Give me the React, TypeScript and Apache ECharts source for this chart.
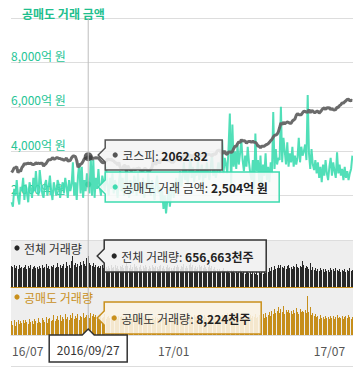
import React, { useEffect, useRef } from 'react';
import * as echarts from 'echarts';

// ---------- data ----------
const START = '2016-06-29';
const END = '2017-07-27';
const HOLIDAYS = [
  '2016-08-15', '2016-09-14', '2016-09-15', '2016-09-16', '2016-10-03', '2016-12-30',
  '2017-01-27', '2017-01-30', '2017-03-01', '2017-05-01', '2017-05-03', '2017-05-05',
  '2017-05-09', '2017-06-06',
];

function tradingDays(): string[] {
  const out: string[] = [];
  const d = new Date(START + 'T00:00:00Z');
  const end = new Date(END + 'T00:00:00Z');
  while (d.getTime() <= end.getTime()) {
    const wd = d.getUTCDay();
    const iso = d.toISOString().slice(0, 10);
    if (wd !== 0 && wd !== 6 && !HOLIDAYS.includes(iso)) out.push(iso.replace(/-/g, '/'));
    d.setUTCDate(d.getUTCDate() + 1);
  }
  return out;
}
const dates = tradingDays();

// 코스피 지수
const kospi = [
  1956, 1970,
  1987, 1989, 1994, 1954, 1974, 1963, 1989, 2000, 2017, 2012, 2017, 2018, 2016, 2019, 2012, 2010, 2013, 2021, 2016, 2019, 2016,
  2019, 2019, 1999, 2010, 2017, 2031, 2043, 2043, 2044, 2056, 2048, 2048, 2055, 2056, 2050, 2051, 2046, 2045, 2038, 2045, 2053, 2034,
  2035, 2038, 2056, 2067, 2067, 2063, 2038, 1991, 2000, 2012, 2017, 2032, 2050, 2053, 2055, 2062.82, 2050, 2068, 2044,
  2053, 2054, 2056, 2054, 2055, 2043, 2033, 2024, 2022, 2027, 2033, 2044, 2047, 2040, 2047, 2038, 2034, 2024, 2020, 2008,
  2024, 1992, 1983, 1982, 2003, 2003, 1958, 2002, 1984, 1974, 1968, 1980, 1979, 1974, 1984, 1983, 1988, 1967, 1975, 1966, 1983, 1983,
  1970, 1970, 1963, 1979, 1991, 2031, 2024, 2008, 2035, 2038, 2017, 2042, 2043, 2043, 2042, 2042, 2035, 2037, 2041, 2026, 2026,
  2026, 2043, 2046, 2042, 2049, 2036, 2046, 2064, 2074, 2076, 2064, 2059, 2072, 2073, 2065, 2066, 2075, 2083, 2083, 2068,
  2073, 2068, 2073, 2072, 2062, 2067, 2075, 2078, 2077, 2075, 2066, 2080, 2081, 2079, 2102, 2106, 2107, 2094, 2085, 2091,
  2102, 2079, 2081, 2094, 2095, 2092, 2097, 2117, 2133, 2133, 2150, 2164, 2157, 2178, 2168, 2172, 2168, 2154, 2163, 2166, 2165, 2160,
  2167, 2160, 2160, 2152, 2133, 2135, 2123, 2133, 2134, 2134, 2142, 2145, 2150, 2160, 2172, 2180, 2196, 2207, 2209, 2215,
  2230, 2260, 2292, 2280, 2296, 2286, 2292, 2297, 2295, 2288, 2289, 2304, 2311, 2317, 2342, 2355, 2346, 2347, 2347,
  2360, 2371, 2369, 2364, 2363, 2381, 2359, 2374, 2372, 2361, 2362, 2370, 2370, 2357, 2366, 2378, 2388, 2392, 2382, 2395, 2391,
  2394, 2381, 2388, 2380, 2379, 2382, 2397, 2396, 2409, 2414, 2426, 2425, 2434, 2441, 2450, 2451, 2440, 2444, 2443,
];

// 공매도 거래 금액 (억 원)
const shortAmount = [
  1700, 1500, 2300, 2000, 2700, 1900, 1600, 2400, 2200, 2800,
  1800, 2500, 2100, 1700, 2600, 2300, 1900, 2800, 2200, 3100,
  2400, 2000, 3150, 2600, 2100, 1900, 2500, 2700, 2000, 2400,
  2900, 2200, 1800, 2600, 2300, 2000, 2700, 2500, 1900, 2300,
  2600, 2100, 2800, 2400, 1900, 2700, 2200, 2500, 3500, 2000,
  2600, 1800, 2900, 3450, 2100, 3300, 1900, 2700, 2200, 3000,
  2504, 2100, 3740, 2000, 3600, 1900, 2800, 2300, 3200, 2400,
  2000, 2900, 2600, 2200, 3300, 2500, 2000, 2800, 2300, 3000,
  2100, 2700, 2400, 1900, 2600, 3100, 2200, 2800, 2000, 2500,
  3300, 2300, 1900, 2700, 2400, 2100, 2900, 2600, 2000, 3000,
  2300, 2500, 2100, 2800, 1900, 2600, 2200, 3000, 2400, 2000,
  2700, 2300, 1800, 2500, 2900, 2100, 2400, 1700, 2200, 1400,
  2000, 1200, 1800, 2300, 1500, 2100, 2600, 1900, 2400, 2800,
  2200, 2600, 3100, 2400, 2900, 3500, 2700, 3200, 2500, 3000,
  3800, 2800, 3300, 2600, 3100, 2900, 3600, 2700, 3000, 3400,
  2600, 3200, 2800, 3500, 3000, 2700, 3300, 3900, 2900, 3200,
  2800, 3100, 3500, 3000, 3600, 4500, 3000, 3700, 3400, 3000,
  4200, 5700, 2300, 5200, 3300, 4000, 3200, 4300, 3400, 3900,
  4500, 3600, 3100, 3800, 3300, 4200, 3500, 3000, 2700, 3600,
  2200, 4800, 3100, 3600, 2600, 3800, 2500, 3400, 2900, 3900,
  2700, 3300, 2600, 3500, 3000, 5770, 3200, 4100, 3400, 3700,
  3600, 6000, 3500, 4600, 4000, 3400, 4400, 3300, 3900, 3500,
  4200, 3300, 3800, 3400, 3700, 4600, 3500, 4200, 3800, 4000,
  4300, 3600, 6530, 3900, 3200, 4100, 3400, 3150, 3600, 3000,
  3500, 2800, 3300, 2600, 3400, 2900, 3600, 3000, 2700, 3300,
  3700, 2900, 3500, 3100, 2800, 3950, 3000, 3400, 2900, 3200,
  2700, 3300, 2800, 3100, 2700, 3000, 3200, 3800,
];

// 전체 거래량 (천주)
const totalVolume = [
  452000, 430000, 478000, 401000, 445000, 389000, 468000, 412000, 436000, 398000,
  420000, 465000, 390000, 441000, 408000, 472000, 385000, 430000, 455000, 402000,
  418000, 376000, 447000, 410000, 462000, 395000, 428000, 481000, 402000, 437000,
  389000, 452000, 416000, 470000, 398000, 435000, 512000, 420000, 458000, 405000,
  446000, 489000, 414000, 530000, 437000, 468000, 402000, 551000, 660000, 478000,
  512000, 433000, 490000, 448000, 536000, 470000, 562000, 498000, 455000, 610000,
  656663, 520000, 478000, 445000, 502000, 430000, 468000, 415000, 452000, 398000,
  440000, 472000, 408000, 455000, 420000, 386000, 448000, 410000, 462000, 395000,
  430000, 475000, 402000, 441000, 388000, 456000, 418000, 470000, 396000, 437000,
  512000, 445000, 408000, 462000, 390000, 433000, 480000, 415000, 450000, 398000,
  425000, 468000, 392000, 440000, 405000, 458000, 420000, 382000, 446000, 410000,
  475000, 430000, 398000, 452000, 415000, 390000, 438000, 470000, 402000, 445000,
  380000, 425000, 458000, 395000, 432000, 410000, 360000, 398000, 442000, 415000,
  468000, 420000, 392000, 455000, 430000, 486000, 410000, 445000, 398000, 462000,
  520000, 435000, 470000, 408000, 452000, 390000, 428000, 476000, 415000, 440000,
  395000, 458000, 420000, 385000, 432000, 465000, 402000, 446000, 378000, 418000,
  355000, 392000, 340000, 378000, 325000, 362000, 398000, 345000, 310000, 372000,
  335000, 298000, 356000, 320000, 368000, 305000, 342000, 288000, 330000, 352000,
  312000, 296000, 348000, 275000, 322000, 340000, 290000, 315000, 268000, 330000,
  305000, 285000, 338000, 262000, 310000, 295000, 326000, 278000, 345000, 300000,
  352000, 318000, 395000, 340000, 420000, 368000, 445000, 382000, 410000, 460000,
  398000, 475000, 430000, 405000, 452000, 385000, 440000, 468000, 410000, 435000,
  392000, 455000, 418000, 480000, 430000, 402000, 445000, 415000, 550000, 470000,
  395000, 440000, 428000, 385000, 512000, 372000, 415000, 360000, 398000, 345000,
  382000, 330000, 405000, 352000, 375000, 318000, 390000, 342000, 368000, 325000,
  398000, 355000, 380000, 335000, 410000, 362000, 345000, 392000, 328000, 370000,
  350000, 385000, 318000, 362000, 340000, 395000, 330000, 372000,
];

// 공매도 거래량 (천주)
const shortVolume = [
  5800, 4200, 6300, 3800, 5500, 6100, 4600, 5900, 5200, 6400,
  4900, 6200, 5600, 4400, 6800, 5300, 6000, 4700, 6500, 5800,
  5100, 6900, 5500, 4800, 7200, 6100, 5400, 7600, 5000, 6600,
  7100, 5700, 6300, 8200, 5900, 6700, 7800, 6200, 8500, 6000,
  7300, 6500, 8900, 6800, 7600, 6100, 8300, 7000, 9200, 6600,
  7900, 7200, 8600, 6400, 8100, 7500, 9000, 6900, 7700, 8400,
  8224, 7100, 9300, 7800, 8800, 7300, 8500, 6900, 8000, 7400,
  8200, 7000, 7700, 8600, 6800, 7500, 8100, 7200, 7900, 6700,
  7600, 8300, 7100, 6600, 7800, 7300, 8000, 6900, 7400, 8200,
  7000, 7600, 6500, 7900, 7200, 6800, 8100, 7400, 6900, 7700,
  7100, 6600, 7500, 8000, 6800, 7300, 6400, 7800, 7000, 6700,
  7400, 6900, 6300, 7600, 7100, 6500, 7200, 6000, 6800, 7300,
  5600, 6200, 7000, 5900, 6600, 7200, 6100, 6800, 7500, 6400,
  7100, 6700, 7800, 6900, 7400, 8100, 7000, 7600, 6800, 8300,
  7200, 7900, 6700, 8500, 7400, 7000, 8000, 7300, 8700, 7500,
  7100, 8200, 7600, 6900, 8400, 7800, 7200, 8600, 7000, 7900,
  7400, 8100, 6800, 7700, 7100, 8300, 7500, 6900, 8000, 9200,
  7300, 8500, 7600, 9000, 7200, 8100, 7700, 8800, 7000, 8400,
  7800, 7200, 8600, 7400, 8000, 6900, 7600, 8300, 7100, 7800,
  7300, 8900, 7000, 7600, 8200, 6800, 7500, 8700, 7200, 9100,
  7700, 8400, 9600, 8000, 10200, 8800, 10800, 9300, 9900, 11600,
  9000, 11000, 9600, 12000, 8900, 10400, 9400, 10600, 9100, 9800,
  8700, 10300, 9200, 11200, 9500, 8800, 10700, 9700, 10100, 9400,
  10500, 9000, 16200, 9600, 11500, 8400, 9200, 7800, 8600, 7400,
  7900, 6800, 8200, 7200, 7600, 6500, 8000, 7000, 7500, 6600,
  7900, 7100, 8100, 6800, 7400, 8300, 6900, 7600, 7200, 7800,
  6700, 7500, 7900, 7000, 8200, 7300, 6800, 7700,
];

const Y_TICKS = [2000, 4000, 6000, 8000];
const X_TICK_DATES = ['2016/07/01', '2017/01/02', '2017/07/03'];
const X_TICK_LABELS = ['16/07', '17/01', '17/07'];
const FOCUS_DATE = '2016/09/27';

// ---------- style ----------
const FONT = "'Noto Sans CJK KR', 'Noto Sans', sans-serif";
const GREEN = '#3edbb0';
const GREEN_TEXT = '#26c596';
const KOSPI_COLOR = '#636363';
const DARK = '#262626';
const ORANGE = '#c9901c';
const BAR_DARK = '#282828';
const BAR_ORANGE = '#c68e1a';

function buildOption(): any {
  const fi = dates.indexOf(FOCUS_DATE);
  return {
    animation: false,
    title: {
      text: '공매도 거래 금액',
      left: 17,
      top: 2,
      textStyle: { fontSize: 12, fontWeight: 'bold', color: '#1fbf8e', fontFamily: FONT },
    },
    grid: [
      { left: 11, right: 0, top: 18, height: 222 },
      { left: 11, right: 0, top: 240, height: 47, show: true, backgroundColor: '#eeeeee', borderWidth: 0 },
      { left: 11, right: 0, top: 287, height: 48, show: true, backgroundColor: '#eeeeee', borderWidth: 0 },
    ],
    xAxis: [0, 1, 2].map((g) => ({
      type: 'category',
      gridIndex: g,
      data: dates,
      boundaryGap: true,
      axisLabel: { show: false },
      axisTick: { show: false },
      axisLine: { show: g > 0, lineStyle: { color: g === 1 ? ORANGE : '#dddddd', width: 1 } },
      splitLine: { show: false },
    })),
    yAxis: [
      {
        type: 'value', gridIndex: 0, min: 0, max: 10000, interval: 2000,
        axisLine: { show: false }, axisTick: { show: false },
        splitLine: { lineStyle: { color: '#dddddd', width: 1 } },
        axisLabel: {
          inside: true, margin: 0, verticalAlign: 'bottom', color: GREEN_TEXT,
          fontSize: 12, fontFamily: FONT, padding: [0, 0, 1, 0],
          formatter: (v: number) => (Y_TICKS.includes(v) ? v.toLocaleString('en-US') + '억 원' : ''),
        },
      },
      { type: 'value', gridIndex: 0, min: 1500, max: 3000, show: false, splitLine: { show: false } },
      { type: 'value', gridIndex: 1, min: 0, max: 1000000, show: false, splitLine: { show: false } },
      { type: 'value', gridIndex: 2, min: 0, max: 20000, show: false, splitLine: { show: false } },
    ],
    series: [
      {
        type: 'line', name: '공매도 거래 금액', xAxisIndex: 0, yAxisIndex: 0, data: shortAmount,
        showSymbol: false, lineStyle: { color: GREEN, width: 2, opacity: 0.9 }, z: 2,
      },
      {
        type: 'line', name: '코스피', xAxisIndex: 0, yAxisIndex: 1, data: kospi,
        showSymbol: false, lineStyle: { color: KOSPI_COLOR, width: 3, opacity: 0.95 }, z: 3,
      },
      {
        type: 'scatter', xAxisIndex: 0, yAxisIndex: 1, data: [[dates[fi], kospi[fi]]],
        symbolSize: 9, itemStyle: { color: '#3a3a3a' }, z: 4,
      },
      {
        type: 'scatter', xAxisIndex: 0, yAxisIndex: 0, data: [[dates[fi], shortAmount[fi]]],
        symbolSize: 6, itemStyle: { color: '#2fcf9f' }, z: 4,
      },
      {
        type: 'bar', name: '전체 거래량', xAxisIndex: 1, yAxisIndex: 2, data: totalVolume,
        itemStyle: { color: BAR_DARK }, barWidth: 1,
      },
      {
        type: 'bar', name: '공매도 거래량', xAxisIndex: 2, yAxisIndex: 3, data: shortVolume,
        itemStyle: { color: BAR_ORANGE }, barWidth: 1,
      },
    ],
  };
}

function tipBox(left: number, top: number, w: number, h: number, stroke: string, fill: string): any {
  const cy = top + h / 2;
  return {
    type: 'polygon',
    z: 100,
    shape: {
      points: [
        [left, top], [left + w, top], [left + w, top + h], [left, top + h],
        [left, cy + 7], [left - 7, cy], [left, cy - 7],
      ],
    },
    style: { fill, stroke, lineWidth: 1.5 },
  };
}

function tipText(x: number, y: number, dotColor: string, label: string, value: string): any[] {
  return [
    { type: 'circle', z: 101, shape: { cx: x, cy: y, r: 2.6 }, style: { fill: dotColor } },
    {
      type: 'text', z: 101, x: x + 7, y,
      style: {
        text: `{t|${label}: }{b|${value}}`,
        verticalAlign: 'middle',
        rich: {
          t: { fontSize: 12, fontFamily: FONT, fill: '#333333' },
          b: { fontSize: 12, fontFamily: FONT, fontWeight: 'bold', fill: '#222222' },
        },
      },
    },
  ];
}

function buildGraphics(px: number, tickPx: number[]): any[] {
  const fi = dates.indexOf(FOCUS_DATE);
  const left = px + 17;
  const g: any[] = [];
  // crosshair
  g.push({ type: 'line', z: 50, shape: { x1: px, y1: 18, x2: px, y2: 331 }, style: { stroke: '#bdbdbd', lineWidth: 1 } });
  // panel labels
  g.push({ type: 'circle', z: 60, shape: { cx: 17, cy: 248, r: 2.6 }, style: { fill: DARK } });
  g.push({ type: 'text', z: 60, x: 24, y: 248, style: { text: '전체 거래량', fill: '#333333', fontSize: 12, fontFamily: FONT, verticalAlign: 'middle' } });
  g.push({ type: 'circle', z: 60, shape: { cx: 17, cy: 297, r: 2.6 }, style: { fill: ORANGE } });
  g.push({ type: 'text', z: 60, x: 24, y: 297, style: { text: '공매도 거래량', fill: ORANGE, fontSize: 12, fontFamily: FONT, verticalAlign: 'middle' } });
  // x labels
  X_TICK_LABELS.forEach((lab, i) => {
    const x = tickPx[i];
    const leftAlign = x - 16 < 11;
    g.push({
      type: 'text', z: 60, x: leftAlign ? 12 : x, y: 350,
      style: { text: lab, fill: '#555555', fontSize: 12, fontFamily: FONT, align: leftAlign ? 'left' : 'center', verticalAlign: 'middle' },
    });
  });
  // bottom line
  g.push({ type: 'line', z: 60, shape: { x1: 11, y1: 366.5, x2: 353, y2: 366.5 }, style: { stroke: '#dddddd', lineWidth: 1 } });

  // tooltips
  g.push(tipBox(left, 140, 117, 30, '#555555', 'rgba(244,244,244,0.88)'));
  g.push(...tipText(left + 10, 155, '#555555', '코스피', kospi[fi].toFixed(2)));
  g.push(tipBox(left, 172, 174, 30, GREEN, 'rgba(248,250,249,0.88)'));
  g.push(...tipText(left + 10, 187, GREEN, '공매도 거래 금액', shortAmount[fi].toLocaleString('en-US') + '억 원'));
  g.push(tipBox(left - 1, 240, 162, 32, '#333333', 'rgba(242,242,242,0.88)'));
  g.push(...tipText(left + 9, 256, DARK, '전체 거래량', totalVolume[fi].toLocaleString('en-US') + '천주'));
  g.push(tipBox(left - 1, 302, 157, 32, ORANGE, 'rgba(250,244,230,0.88)'));
  g.push(...tipText(left + 9, 318, ORANGE, '공매도 거래량', shortVolume[fi].toLocaleString('en-US') + '천주'));

  // date box
  const dl = px - 39, dr = px + 39, dt = 335, db = 362;
  g.push({
    type: 'polygon', z: 100,
    shape: { points: [[dl, dt], [px - 6, dt], [px, dt - 6], [px + 6, dt], [dr, dt], [dr, db], [dl, db]] },
    style: { fill: '#ffffff', stroke: '#333333', lineWidth: 1.5 },
  });
  g.push({
    type: 'text', z: 101, x: px, y: 349,
    style: { text: FOCUS_DATE, fill: '#333333', fontSize: 12, fontFamily: FONT, align: 'center', verticalAlign: 'middle' },
  });
  return g;
}

const CRISP_CSS = `#short-chart path[fill="${BAR_DARK}"], #short-chart path[fill="${BAR_ORANGE}"] { shape-rendering: crispEdges; }`;

export default function App() {
  const ref = useRef<HTMLDivElement>(null);
  useEffect(() => {
    if (!ref.current) return;
    const chart = echarts.init(ref.current, null, { renderer: 'svg' });
    chart.setOption(buildOption());
    const px = chart.convertToPixel({ xAxisIndex: 0 }, FOCUS_DATE) as number;
    const tickPx = X_TICK_DATES.map((d) => chart.convertToPixel({ xAxisIndex: 2 }, d) as number);
    chart.setOption({ graphic: buildGraphics(px, tickPx) });
    return () => chart.dispose();
  }, []);
  return (
    <>
      <style>{CRISP_CSS}</style>
      <div id="short-chart" ref={ref} style={{ position: 'absolute', left: 0, top: 0, width: 353, height: 367 }} />
    </>
  );
}
